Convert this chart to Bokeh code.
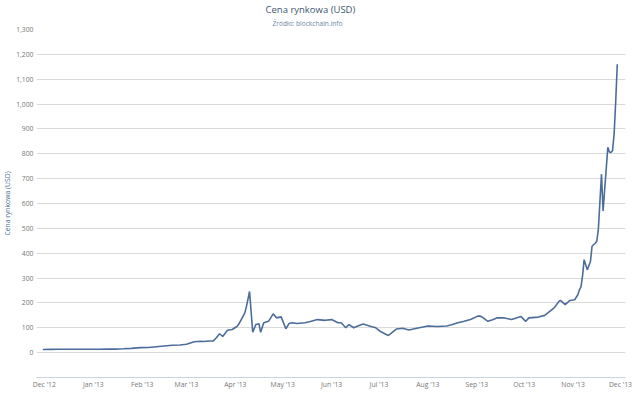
import pandas as pd
from bokeh.plotting import figure
from bokeh.models import Range1d, FixedTicker, NumeralTickFormatter, DatetimeTickFormatter, MonthsTicker, Title
from bokeh.embed import file_html
from bokeh.resources import INLINE

# Market price (USD)
dates = [
    "2012-11-30", "2012-12-05", "2012-12-10", "2012-12-15", "2012-12-20", "2012-12-25", "2012-12-31",
    "2013-01-05", "2013-01-10", "2013-01-15", "2013-01-20", "2013-01-25", "2013-01-31",
    "2013-02-05", "2013-02-10", "2013-02-15", "2013-02-20", "2013-02-25",
    "2013-03-01", "2013-03-04", "2013-03-06", "2013-03-10", "2013-03-12", "2013-03-15", "2013-03-18",
    "2013-03-20", "2013-03-22", "2013-03-24", "2013-03-27", "2013-03-30",
    "2013-04-02", "2013-04-03", "2013-04-05", "2013-04-07", "2013-04-08", "2013-04-09", "2013-04-10",
    "2013-04-12", "2013-04-14", "2013-04-16", "2013-04-17", "2013-04-19", "2013-04-22", "2013-04-25",
    "2013-04-27", "2013-04-30",
    "2013-05-03", "2013-05-05", "2013-05-07", "2013-05-10", "2013-05-15", "2013-05-18", "2013-05-23",
    "2013-05-28",
    "2013-06-01", "2013-06-05", "2013-06-07", "2013-06-10", "2013-06-12", "2013-06-15", "2013-06-18",
    "2013-06-21", "2013-06-26", "2013-06-29",
    "2013-07-02", "2013-07-05", "2013-07-07", "2013-07-10", "2013-07-12", "2013-07-16", "2013-07-20",
    "2013-07-25",
    "2013-08-01", "2013-08-07", "2013-08-13", "2013-08-16", "2013-08-20", "2013-08-24", "2013-08-28",
    "2013-09-02", "2013-09-04", "2013-09-08", "2013-09-11", "2013-09-14", "2013-09-18", "2013-09-23",
    "2013-09-29",
    "2013-10-02", "2013-10-04", "2013-10-10", "2013-10-14", "2013-10-16", "2013-10-20", "2013-10-23",
    "2013-10-24", "2013-10-27", "2013-10-30",
    "2013-11-02", "2013-11-04", "2013-11-05", "2013-11-06", "2013-11-07", "2013-11-08", "2013-11-10",
    "2013-11-12", "2013-11-13", "2013-11-15", "2013-11-16", "2013-11-17", "2013-11-19", "2013-11-20",
    "2013-11-23", "2013-11-24", "2013-11-25", "2013-11-26", "2013-11-27", "2013-11-28", "2013-11-29",
]
prices = [
    12.5, 13.0, 13.4, 13.4, 13.4, 13.4, 13.5,
    13.4, 14.0, 14.3, 15.5, 17.2, 20.0,
    20.5, 23.5, 26.5, 29.5, 30.5,
    34.0, 40.0, 44.0, 46.0, 45.0, 47.0, 47.5,
    60.0, 76.0, 65.0, 90.0, 93.0,
    105, 113, 136, 160, 185, 215, 246,
    82, 113, 116, 82, 120, 126, 156,
    140, 144,
    96, 117, 120, 117, 120, 124, 133,
    130,
    133, 120, 120, 100, 113, 100, 108,
    115, 105, 100,
    85, 75, 69, 85, 95, 98, 91,
    98,
    107, 105, 107, 112, 120, 126, 133,
    148, 145, 126, 132, 140, 140, 133,
    145,
    126, 140, 143, 150, 160, 180, 206,
    210, 193, 210,
    213, 233, 253, 265, 310, 374, 333,
    367, 428, 440, 448, 496, 718, 570,
    826, 807, 805, 813, 880, 1010, 1160,
]
y_ticks = list(range(0, 1400, 100))

title_text = "Cena rynkowa (USD)"
subtitle_text = "Źródło: blockchain.info"
y_label = "Cena rynkowa (USD)"

FONT = "Open Sans"

x = pd.to_datetime(dates)

p = figure(
    width=638, height=391,
    output_backend="svg", toolbar_location=None,
    x_axis_type="datetime",
    x_range=Range1d(pd.Timestamp("2012-11-26 00:00"), pd.Timestamp("2013-12-04 05:00")),
    y_range=Range1d(-100, 1300),
    min_border=0, min_border_left=34, min_border_right=13, min_border_top=6, min_border_bottom=0,
)
p.outline_line_color = None
p.background_fill_color = "white"
p.border_fill_color = "white"

# main title (outermost) and subtitle (closest to frame)
p.title.text = title_text
p.title.text_font = FONT
p.title.text_font_size = "9.5px"
p.title.text_font_style = "normal"
p.title.text_color = "#3E576F"
p.title.align = "left"
p.title.offset = 229
p.title.standoff = 0
sub_title = Title(text=subtitle_text, text_font=FONT, text_font_size="6.6px", text_font_style="normal",
                  text_color="#6D869F", align="left", offset=236, standoff=3)
p.add_layout(sub_title, "above")

p.line(x, prices, line_color="#4C6D9A", line_width=1.6)

# y axis
p.yaxis.ticker = FixedTicker(ticks=y_ticks)
p.yaxis.formatter = NumeralTickFormatter(format="0,0")
p.yaxis.axis_line_color = None
p.yaxis.major_tick_line_color = None
p.yaxis.minor_tick_line_color = None
p.yaxis.major_tick_out = 0
p.yaxis.minor_tick_out = 0
p.yaxis.major_tick_in = 0
p.yaxis.minor_tick_in = 0
p.yaxis.major_label_text_font = FONT
p.yaxis.major_label_text_font_size = "6.8px"
p.yaxis.major_label_text_color = "#777777"
p.yaxis.major_label_standoff = 3
p.yaxis.axis_label = y_label
p.yaxis.axis_label_text_font = FONT
p.yaxis.axis_label_text_font_size = "6.8px"
p.yaxis.axis_label_text_font_style = "normal"
p.yaxis.axis_label_text_color = "#4D7199"
p.yaxis.axis_label_standoff = 1

p.ygrid.ticker = FixedTicker(ticks=y_ticks)
p.ygrid.grid_line_color = "#DADADA"
p.ygrid.grid_line_width = 1
p.xgrid.grid_line_color = None

# x axis
p.xaxis.ticker = MonthsTicker(months=list(range(12)))
p.xaxis.formatter = DatetimeTickFormatter(months="%b '%y", days="%b '%y")
p.xaxis.axis_line_color = "#C8D4E0"
p.xaxis.major_tick_line_color = None
p.xaxis.minor_tick_line_color = None
p.xaxis.major_tick_out = 0
p.xaxis.minor_tick_out = 0
p.xaxis.major_tick_in = 0
p.xaxis.minor_tick_in = 0
p.xaxis.axis_label_standoff = 0
p.xaxis.major_label_text_font = FONT
p.xaxis.major_label_text_font_size = "6.8px"
p.xaxis.major_label_text_color = "#777777"
p.xaxis.major_label_standoff = 2

open("out.html", "w").write(file_html(p, INLINE))
